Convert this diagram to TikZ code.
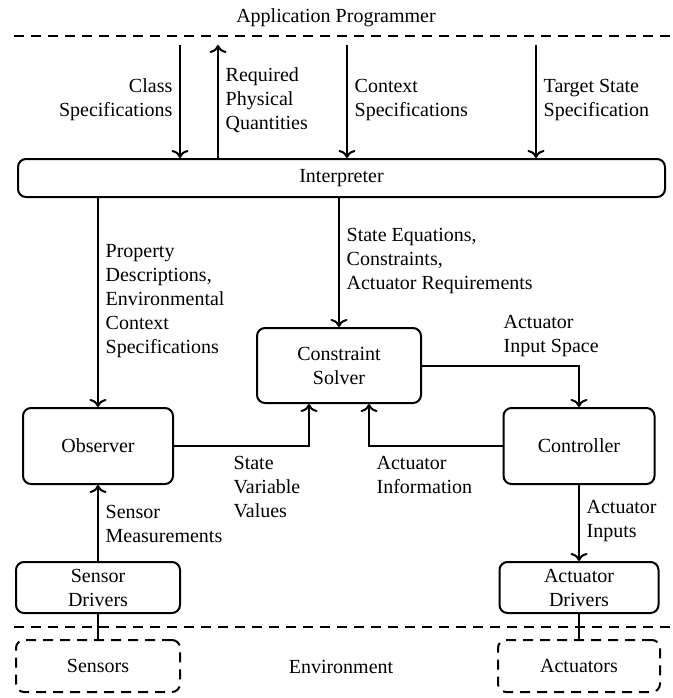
\documentclass[tikz,border=0pt]{standalone}
\usepackage{fontspec}
\setmainfont{Liberation Serif}
\usetikzlibrary{arrows.meta}

\begin{document}
\begin{tikzpicture}[x=0.5pt, y=-0.5pt, line width=1pt,
  arr/.style={-{To[length=4pt,width=8.5pt]}},
  block/.style={draw, rounded corners=4pt, align=center, inner sep=2pt},
  envbox/.style={block, divider},
  divider/.style={dash pattern=on 5pt off 3.5pt},
  lbl/.style={align=left, anchor=west}]
  \useasboundingbox (0,0) rectangle (673,698);

  % layers
  \node (prog) at (336,18) {Application Programmer};
  \draw[divider] (14,36) -- (673,36);
  \draw[divider] (14,627) -- (673,627);
  \node (env) at (341,667) {Environment};

  % blocks
  \node[block, minimum width=323.5pt, minimum height=19pt] (interp) at (341.5,178) {Interpreter};
  \node[block, minimum width=82pt, minimum height=37.5pt] (solver) at (339,365.5) {Constraint\\Solver};
  \node[block, minimum width=75pt, minimum height=38pt] (observer) at (98,446) {Observer};
  \node[block, minimum width=75.5pt, minimum height=38pt] (controller) at (579,446) {Controller};
  \node[block, minimum width=82pt, minimum height=25.5pt] (sensdrv) at (98,587.5) {Sensor\\Drivers};
  \node[block, minimum width=79.5pt, minimum height=25.5pt] (actdrv) at (579,587.5) {Actuator\\Drivers};
  \node[envbox, minimum width=82pt, minimum height=26pt] (sensors) at (98,666) {Sensors};
  \node[envbox, minimum width=81pt, minimum height=26pt] (actuators) at (579,666) {Actuators};

  % programmer interface
  \coordinate (cls) at (180,45);
  \coordinate (req) at (218,45);
  \coordinate (ctx) at (347,45);
  \coordinate (tgt) at (536,45);
  \draw[arr] (cls) -- (cls |- interp.north);
  \draw[arr] (req |- interp.north) -- (req);
  \draw[arr] (ctx) -- (ctx |- interp.north);
  \draw[arr] (tgt) -- (tgt |- interp.north);
  \node[align=right, anchor=east] at (180,100) {Class\\Specifications};
  \node[lbl] at (218,100) {Required\\Physical\\Quantities};
  \node[lbl] at (347,100) {Context\\Specifications};
  \node[lbl] at (536,100) {Target State\\Specification};

  % interpreter outputs
  \draw[arr] (observer.north |- interp.south) -- (observer.north);
  \draw[arr] (solver.north |- interp.south) -- (solver.north);
  \node[lbl] at (98,301) {Property\\Descriptions,\\Environmental\\Context\\Specifications};
  \node[lbl] at (339,261) {State Equations,\\Constraints,\\Actuator Requirements};

  % control loop
  \draw[arr] (observer.east) -| ([xshift=-15pt]solver.south);
  \draw[arr] (controller.west) -| ([xshift=15pt]solver.south);
  \draw[arr] (solver.east) -| (controller.north);
  \node[lbl] at (496,336) {Actuator\\Input Space};
  \node[lbl] at (226,487) {State\\Variable\\Values};
  \node[lbl] at (369,475) {Actuator\\Information};

  % drivers
  \draw[arr] (sensdrv.north) -- (observer.south);
  \draw[arr] (controller.south) -- (actdrv.north);
  \draw (sensdrv.south) -- (sensors.north);
  \draw (actdrv.south) -- (actuators.north);
  \node[lbl] at (98,524) {Sensor\\Measurements};
  \node[lbl] at (579,521) {Actuator\\Inputs};
\end{tikzpicture}
\end{document}
